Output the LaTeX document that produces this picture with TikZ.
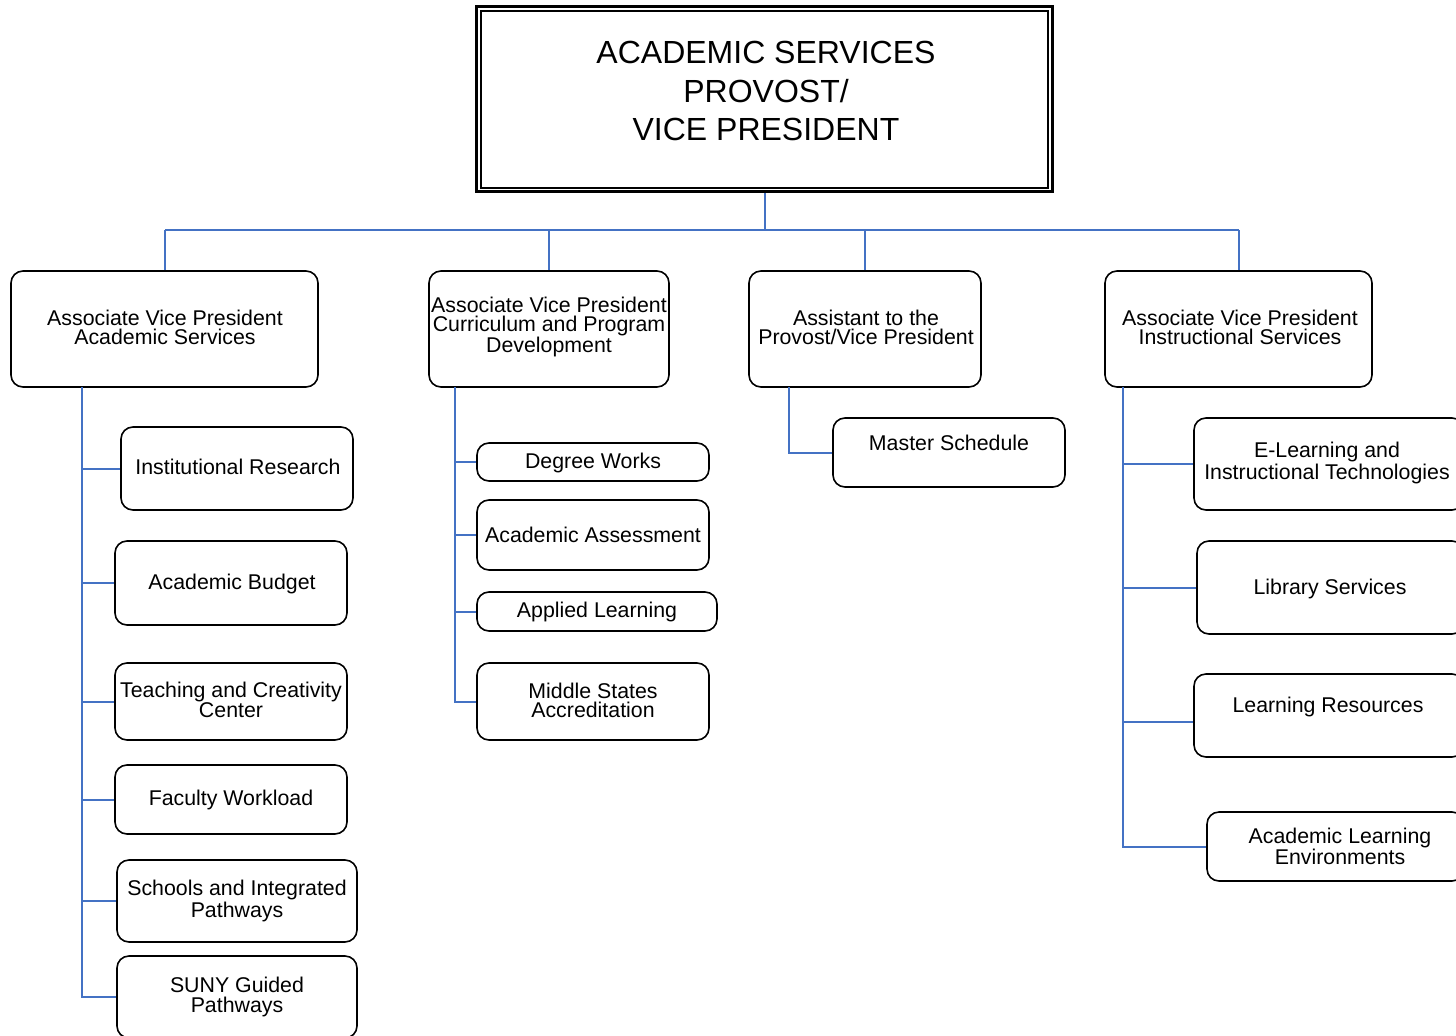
\documentclass[tikz,border=0pt]{standalone}
\usepackage{fontspec}
\setmainfont{Liberation Sans}
\usetikzlibrary{fit}
\definecolor{connblue}{RGB}{68,114,196}
\tikzset{
  orgbox/.style={draw=black, line width=1.2pt, rounded corners=9pt, inner sep=0pt},
  lbl/.style={font=\fontsize{16}{14.3}\selectfont, align=center, inner sep=0pt},
  ttl/.style={font=\fontsize{24}{29}\selectfont, align=center, inner sep=0pt},
  conn/.style={draw=connblue, line width=1.5pt},
}
\newcommand\obox[8]{%
  \node[orgbox, fit={(#2,#3)(#4,#5)}] (#1) {};
  \node[lbl] (#1t) at (#6,#7) {#8};
}
\begin{document}
\begin{tikzpicture}[x=0.75pt, y=-0.75pt]
\useasboundingbox (0,0) rectangle (1456,1035);
\clip (0,0) rectangle (1456,1035);
% title
\node[draw=black, line width=2.25pt, inner sep=0pt, fit={(476.5,6.5)(1052.5,191.5)}] (title) {};
\node[draw=black, line width=1.5pt, inner sep=0pt, fit={(480.5,10.5)(1047.5,187.5)}] (titlein) {};
\node[ttl] (titlet) at (766,91) {ACADEMIC SERVICES\\PROVOST/\\VICE PRESIDENT};
% level 2
\obox{a1}{11}{271}{318}{387}{165}{327}{Associate Vice President\\Academic Services}
\obox{a2}{429}{271}{669}{387}{549}{327}{Associate Vice President\\Curriculum and Program\\Development}
\obox{a3}{749}{271}{981}{387}{866}{327}{Assistant to the\\Provost/Vice President}
\obox{a4}{1105}{271}{1372}{387}{1240}{327}{Associate Vice President\\Instructional Services}
% A1 children
\obox{ir}{121}{427}{353}{510}{238}{467}{Institutional Research}
\obox{ab}{115}{541}{347}{625}{232}{584}{Academic Budget}
\obox{tc}{115}{663}{347}{740}{231}{700}{Teaching and Creativity\\Center}
\obox{fw}{115}{765}{347}{834}{231}{800}{Faculty Workload}
\obox{sip}{117}{860}{357}{942}{237}{901}{Schools and Integrated\\Pathways}
\obox{suny}{117}{956}{357}{1038}{237}{997}{SUNY Guided\\Pathways}
% A2 children
\obox{dw}{477}{443}{709}{481}{593}{463}{Degree Works}
\obox{aa}{477}{500}{709}{570}{593}{535}{Academic Assessment}
\obox{al}{477}{592}{717}{631}{597}{612}{Applied Learning}
\obox{ms}{477}{663}{709}{740}{593}{700}{Middle States\\Accreditation}
% A3 child
\obox{mast}{833}{418}{1065}{487}{949}{443}{Master Schedule}
% A4 children
\obox{el}{1194}{418}{1464}{510}{1327}{463}{E-Learning and\\Instructional Technologies}
\obox{lib}{1197}{541}{1464}{634}{1330}{589}{Library Services}
\obox{lr}{1194}{674}{1464}{757}{1328}{707}{Learning Resources}
\obox{ale}{1207}{812}{1464}{881}{1340}{846}{Academic Learning\\Environments}
% top connectors
\coordinate (busL) at (165,230);
\coordinate (busR) at (1239,230);
\draw[conn] (title.south) -- (title.south |- busL);
\draw[conn] (busL) -- (busR);
\draw[conn] (a1.north) -- (a1.north |- busL);
\draw[conn] (a2.north) -- (a2.north |- busL);
\draw[conn] (a3.north) -- (a3.north |- busL);
\draw[conn] (a4.north) -- (a4.north |- busL);
% A1 spine
\coordinate (s1) at (82,387);
\draw[conn] (s1) |- (suny.west);
\foreach \n in {ir,ab,tc,fw,sip} \draw[conn] (s1 |- \n.west) -- (\n.west);
% A2 spine
\coordinate (s2) at (455,387);
\draw[conn] (s2) |- (ms.west);
\foreach \n in {dw,aa,al} \draw[conn] (s2 |- \n.west) -- (\n.west);
% A3
\coordinate (s3) at (789,387);
\draw[conn] (s3) |- (mast.west);
% A4 spine
\coordinate (s4) at (1123,387);
\draw[conn] (s4) |- (ale.west);
\foreach \n in {el,lib} \draw[conn] (s4 |- \n.west) -- (\n.west);
\coordinate (lrc) at ([yshift=-4.5pt]lr.west);
\draw[conn] (s4 |- lrc) -- (lrc);
\end{tikzpicture}
\end{document}
